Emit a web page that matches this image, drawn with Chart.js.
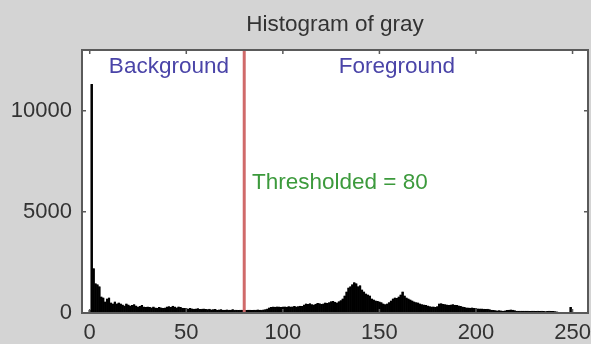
<!DOCTYPE html>
<html>
<head>
<meta charset="utf-8">
<script src="https://cdn.jsdelivr.net/npm/chart.js@4.4.0/dist/chart.umd.min.js"></script>
<style>
html,body{margin:0;padding:0;background:#d4d4d4;}
canvas{display:block;}
</style>
</head>
<body>
<canvas id="hist" width="591" height="344"></canvas>
<script>
// counts per gray level 0..255
const counts = [
  150,11300,2200,1450,1400,1300,800,750,550,700,
  750,500,450,550,450,500,450,400,350,450,
  400,350,380,420,350,300,330,380,300,280,
  300,280,260,300,250,240,280,260,230,250,
  300,320,280,340,300,260,310,280,240,230,
  220,200,230,210,190,200,220,180,190,200,
  180,170,190,160,170,180,150,160,170,150,
  150,160,140,150,170,140,150,130,140,150,
  140,130,150,140,130,150,140,160,150,140,
  160,170,200,260,280,300,290,310,300,280,
  300,310,290,320,300,310,330,300,320,340,
  330,400,450,430,460,420,400,440,480,460,
  430,450,500,480,520,560,580,540,500,560,
  620,700,850,1050,1250,1300,1400,1500,1450,1300,
  1350,1150,1050,950,900,850,700,650,600,580,
  550,520,450,420,450,520,600,700,750,720,
  800,900,1050,850,750,700,650,600,550,520,
  500,450,420,400,380,350,320,300,310,280,
  320,450,460,430,420,400,380,400,420,390,
  380,360,330,300,280,260,250,240,260,230,
  220,210,200,200,190,180,190,170,150,130,
  120,110,120,110,100,110,130,150,160,150,
  120,100,100,90,100,90,100,90,80,90,
  90,80,90,80,90,80,70,80,90,80,
  80,70,60,0,0,0,0,0,0,280,
  0,0,0,0,0,0
];
const xTicks = [0, 50, 100, 150, 200, 250];
const yTicks = [0, 5000, 10000];
const threshold = 80;
const titleText = 'Histogram of gray';
const bgLabel = 'Background';
const fgLabel = 'Foreground';
const thLabel = 'Thresholded = ' + threshold;

const FONT = "'Liberation Sans', Arial, sans-serif";

const decor = {
  id: 'decor',
  beforeDraw(chart) {
    const {ctx, chartArea: a} = chart;
    ctx.save();
    ctx.fillStyle = '#d4d4d4';
    ctx.fillRect(0, 0, chart.width, chart.height);
    ctx.fillStyle = '#ffffff';
    ctx.fillRect(a.left, a.top, a.right - a.left, a.bottom - a.top);
    ctx.restore();
  },
  afterDatasetsDraw(chart) {
    const {ctx, chartArea: a, scales: {x, y}} = chart;
    ctx.save();
    // threshold line
    const tx = x.getPixelForValue(threshold);
    ctx.strokeStyle = '#d06a6a';
    ctx.lineWidth = 3;
    ctx.beginPath();
    ctx.moveTo(tx, a.top);
    ctx.lineTo(tx, a.bottom);
    ctx.stroke();

    // box
    ctx.strokeStyle = '#5a5a5a';
    ctx.lineWidth = 2;
    ctx.strokeRect(a.left, a.top, a.right - a.left, a.bottom - a.top);

    // inward ticks
    ctx.lineWidth = 1.5;
    ctx.beginPath();
    xTicks.forEach(v => {
      const px = x.getPixelForValue(v);
      ctx.moveTo(px, a.bottom); ctx.lineTo(px, a.bottom - 4);
      ctx.moveTo(px, a.top); ctx.lineTo(px, a.top + 4);
    });
    yTicks.forEach(v => {
      const py = y.getPixelForValue(v);
      ctx.moveTo(a.left, py); ctx.lineTo(a.left + 4, py);
      ctx.moveTo(a.right, py); ctx.lineTo(a.right - 4, py);
    });
    ctx.stroke();

    // texts
    ctx.font = '22.5px ' + FONT;
    ctx.textBaseline = 'middle';
    ctx.textAlign = 'center';
    ctx.fillStyle = '#333333';
    ctx.fillText(titleText, (a.left + a.right) / 2, 25);
    ctx.fillStyle = '#4a44a8';
    ctx.fillText(bgLabel, x.getPixelForValue(41), y.getPixelForValue(12150));
    ctx.fillText(fgLabel, x.getPixelForValue(159), y.getPixelForValue(12150));
    ctx.textAlign = 'left';
    ctx.fillStyle = '#3c9a3c';
    ctx.fillText(thLabel, x.getPixelForValue(84), y.getPixelForValue(6450));
    ctx.restore();
  }
};

new Chart(document.getElementById('hist'), {
  type: 'bar',
  data: {
    datasets: [{
      data: counts.map((c, i) => ({x: i, y: c})),
      backgroundColor: '#000000',
      borderColor: '#000000',
      borderWidth: 0.3,
      barPercentage: 1,
      categoryPercentage: 1
    }]
  },
  options: {
    responsive: false,
    animation: false,
    layout: {padding: {top: 50, right: 3, left: 0, bottom: 0}},
    plugins: {legend: {display: false}, tooltip: {enabled: false}},
    scales: {
      x: {
        type: 'linear',
        min: -4,
        max: 258,
        offset: false,
        grid: {display: false, drawTicks: false, offset: false},
        border: {display: false},
        afterBuildTicks: s => { s.ticks = xTicks.map(v => ({value: v})); },
        afterFit: s => { s.height = 31; s.paddingLeft = 0; s.paddingRight = 0; },
        ticks: {color: '#333333', font: {family: FONT, size: 22}, padding: 7, maxRotation: 0, autoSkip: false,
                callback: v => String(v)}
      },
      y: {
        min: 0,
        max: 13000,
        grid: {display: false, drawTicks: false},
        border: {display: false},
        afterBuildTicks: s => { s.ticks = yTicks.map(v => ({value: v})); },
        afterFit: s => { s.width = 82; s.paddingTop = 0; s.paddingBottom = 0; },
        ticks: {color: '#333333', font: {family: FONT, size: 22}, padding: 10,
                callback: v => String(v)}
      }
    }
  },
  plugins: [decor]
});
</script>
</body>
</html>
